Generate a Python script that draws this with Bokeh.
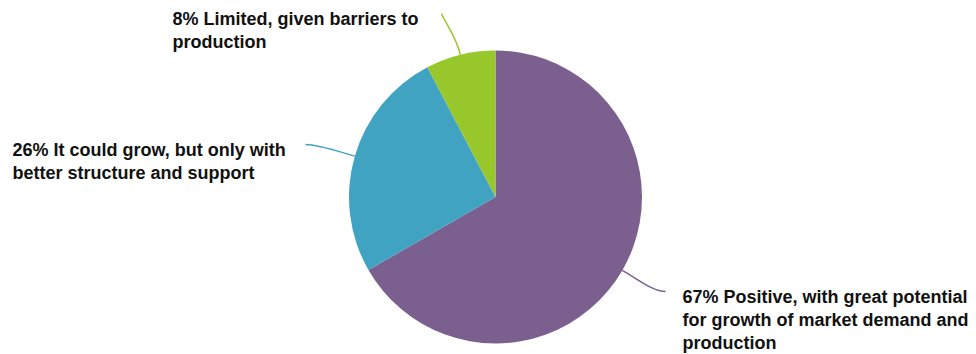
import numpy as np
from bokeh.plotting import figure
from bokeh.models import Range1d
from bokeh.core.properties import value
from bokeh.embed import file_html
from bokeh.resources import INLINE

# ---- data ----
categories = ["Positive, with great potential for growth of market demand and production",
              "It could grow, but only with better structure and support",
              "Limited, given barriers to production"]
shares = [66.7, 25.6, 7.7]
pct_labels = ["67%", "26%", "8%"]
label_lines = [
    ["67% Positive, with great potential", "for growth of market demand and", "production"],
    ["26% It could grow, but only with", "better structure and support"],
    ["8% Limited, given barriers to", "production"],
]
colors = ["#7B5F8E", "#41A3C2", "#97C72A"]

W, H = 976, 354
def sx(x): return x
def sy(y): return H - y

p = figure(width=W, height=H, output_backend="svg", toolbar_location=None,
           x_range=Range1d(0, W), y_range=Range1d(0, H), min_border=0)
p.axis.visible = False
p.grid.visible = False
p.outline_line_color = None
p.background_fill_color = "white"
p.border_fill_color = "white"

cx, cy, r = sx(495), sy(196.5), 146.5

vals = np.array(shares, dtype=float)
frac = vals / vals.sum()
ang_cum = np.concatenate([[0], np.cumsum(frac)]) * 2 * np.pi
start_cw = np.pi / 2 - ang_cum[:-1]   # clockwise from top
end_cw = np.pi / 2 - ang_cum[1:]
p.wedge(x=[cx] * 3, y=[cy] * 3, radius=r,
        start_angle=list(end_cw), end_angle=list(start_cw),
        fill_color=colors, line_color=None)

# leader lines
mid = (start_cw + end_cw) / 2
ends = [(sx(665), sy(291)), (sx(305), sy(144)), (sx(441), sy(13))]
for i in range(3):
    x0 = cx + r * np.cos(mid[i]); y0 = cy + r * np.sin(mid[i])
    ex, ey = ends[i]
    d = 0.45 * np.hypot(ex - x0, ey - y0)
    c0x = x0 + d * np.cos(mid[i]); c0y = y0 + d * np.sin(mid[i])
    if i == 2:
        c1x, c1y = ex + 4, ey - 10
    else:
        c1x = ex + (-12 if ex > x0 else 12); c1y = ey
    p.bezier(x0=[x0], y0=[y0], x1=[ex], y1=[ey], cx0=[c0x], cy0=[c0y],
             cx1=[c1x], cy1=[c1y], line_color=colors[i], line_width=1.5)

# labels
anchors = [(682, [296, 319, 342]), (12, [149, 172]), (172, [18, 41])]
for i, (lx, lys) in enumerate(anchors):
    p.text(x=[sx(lx)] * len(lys), y=[sy(v) for v in lys], text=label_lines[i],
           text_font=value("Liberation Sans"), text_font_style="bold",
           text_font_size="18px", text_color="#111111",
           text_align="left", text_baseline="middle")

open("out.html", "w").write(file_html(p, INLINE))
